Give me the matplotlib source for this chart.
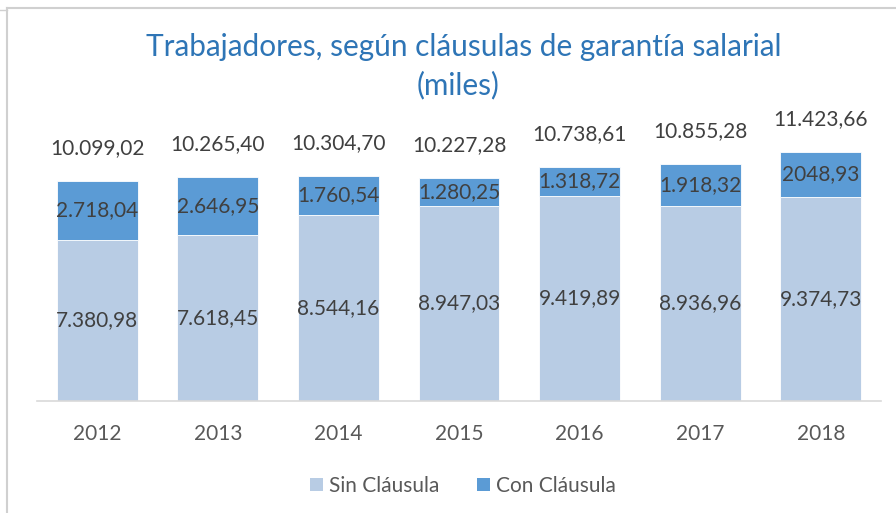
import matplotlib
matplotlib.use("Agg")
import matplotlib.pyplot as plt
from matplotlib.patches import Patch
from matplotlib.lines import Line2D

years = ["2012", "2013", "2014", "2015", "2016", "2017", "2018"]
sin_clausula = [7380.98, 7618.45, 8544.16, 8947.03, 9419.89, 8936.96, 9374.73]
con_clausula = [2718.04, 2646.95, 1760.54, 1280.25, 1318.72, 1918.32, 2048.93]
totales = [10099.02, 10265.40, 10304.70, 10227.28, 10738.61, 10855.28, 11423.66]
sin_labels = ["7.380,98", "7.618,45", "8.544,16", "8.947,03", "9.419,89", "8.936,96", "9.374,73"]
con_labels = ["2.718,04", "2.646,95", "1.760,54", "1.280,25", "1.318,72", "1.918,32", "2048,93"]
total_labels = ["10.099,02", "10.265,40", "10.304,70", "10.227,28", "10.738,61", "10.855,28", "11.423,66"]

plt.rcParams['font.family'] = ['Lato', 'DejaVu Sans']

W, H = 896, 513
fig = plt.figure(figsize=(W / 100, H / 100), dpi=100)
fig.patch.set_facecolor("white")

left_px, right_px, base_px, top_px = 37, 881, 401, 100
ax = fig.add_axes([left_px / W, 1 - base_px / H, (right_px - left_px) / W, (base_px - top_px) / H])
px_per_unit = 0.02180
ax.set_ylim(0, (base_px - top_px) / px_per_unit)
ax.set_xlim(-0.5, len(years) - 0.5)

c_sin = "#B8CCE4"
c_con = "#5B9BD5"
x = list(range(len(years)))
ax.bar(x, sin_clausula, width=0.67, color=c_sin, edgecolor="white", linewidth=0.6)
ax.bar(x, con_clausula, width=0.67, bottom=sin_clausula, color=c_con, edgecolor="white", linewidth=0.6)

fs = 15
for i in x:
    ax.text(i, sin_clausula[i] / 2, sin_labels[i], ha="center", va="center", fontsize=fs, color="#404040")
    ax.text(i, sin_clausula[i] + con_clausula[i] / 2, con_labels[i], ha="center", va="center", fontsize=fs, color="#404040")
    ax.annotate(total_labels[i], xy=(i, totales[i]), xytext=(0, 33 * 72 / 100), textcoords="offset points",
                ha="center", va="center", fontsize=fs, color="#404040")

for s in ["top", "right", "left"]:
    ax.spines[s].set_visible(False)
ax.spines["bottom"].set_color("#D9D9D9")
ax.spines["bottom"].set_linewidth(1.2)
ax.set_yticks([])
ax.set_xticks(x)
ax.set_xticklabels(years, fontsize=fs, color="#595959")
ax.tick_params(axis="x", length=0, pad=16.5)

fig.text(464 / W, 1 - 47 / H, "Trabajadores, según cláusulas de garantía salarial", ha="center", va="center",
         fontsize=21.4, color="#2E75B6")
fig.text(458 / W, 1 - 85 / H, "(miles)", ha="center", va="center", fontsize=21.4, color="#2E75B6")

handles = [Patch(facecolor=c_sin, label="Sin Cláusula"), Patch(facecolor=c_con, label="Con Cláusula")]
leg = fig.legend(handles=handles, loc="center", bbox_to_anchor=(463 / W, 1 - 486 / H), ncol=2, frameon=False,
                 fontsize=fs, handlelength=0.62, handleheight=0.62, handletextpad=0.3, columnspacing=1.8)
for t in leg.get_texts():
    t.set_color("#595959")

# chart border
fig.add_artist(Line2D([7 / W, 7 / W], [0, 1 - 8 / H], transform=fig.transFigure, color="#D0D0D0", lw=1.5))
fig.add_artist(Line2D([7 / W, 1], [1 - 8 / H, 1 - 8 / H], transform=fig.transFigure, color="#D0D0D0", lw=1.5))
fig.add_artist(Line2D([0, 7 / W], [1 - 10 / H, 1 - 10 / H], transform=fig.transFigure, color="#D0D0D0", lw=1.0))

fig.savefig("out.png", dpi=100)
